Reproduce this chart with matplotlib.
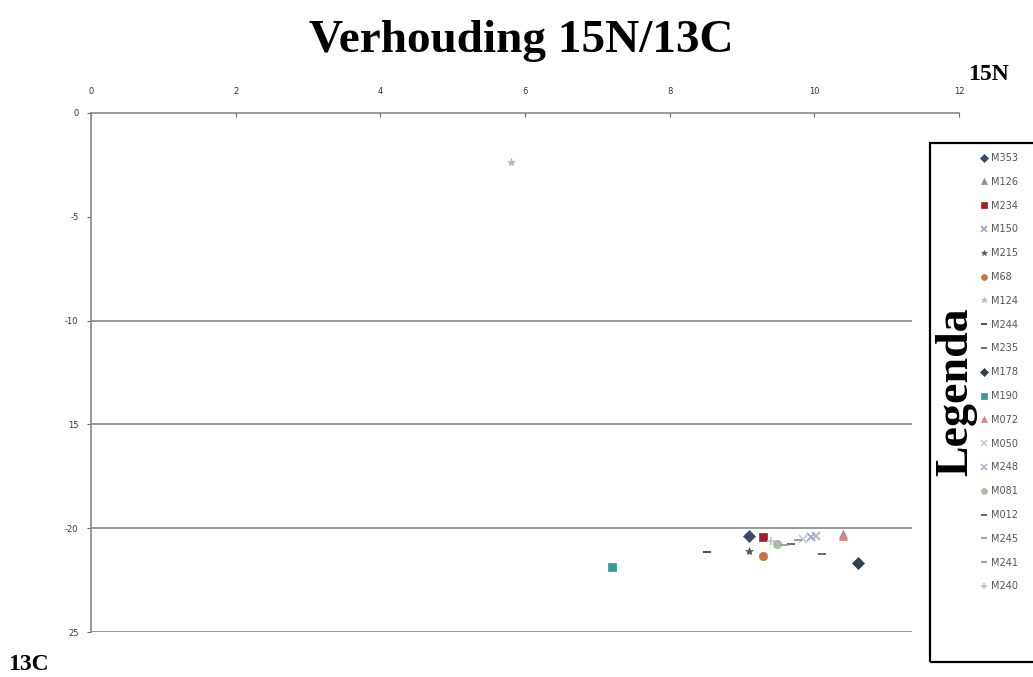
import matplotlib
matplotlib.use("Agg")
import matplotlib.pyplot as plt
from matplotlib.patches import Rectangle

# isotope ratios per sample (15N on x, 13C on y)
samples = ["M353", "M126", "M234", "M150", "M215", "M68", "M124", "M244", "M235", "M178",
           "M190", "M072", "M050", "M248", "M081", "M012", "M245", "M241", "M240"]
n15 = [9.10, 10.40, 9.29, 9.95, 9.10, 9.29, 5.81, 8.52, 9.68, 10.60,
       7.20, 10.40, 9.85, 10.02, 9.49, 10.11, 9.60, 9.78, 9.40]
c13 = [-20.38, -20.30, -20.40, -20.42, -21.08, -21.32, -2.38, -21.16, -20.78, -21.69,
       -21.85, -20.38, -20.50, -20.36, -20.76, -21.24, -20.80, -20.55, -20.60]

x_ticks = [0, 2, 4, 6, 8, 10, 12]
y_ticks = [0, -5, -10, -15, -20, -25]
y_tick_labels = ["0", "-5", "-10", "15", "-20", "25"]
grid_levels = [-10, -15, -20, -25]

markers = ["D", "^", "s", "x", "*", "o", "*", "_", "_", "D",
           "s", "^", "x", "x", "o", "_", "_", "_", "+"]
colors = ["#3c4a66", "#8c9494", "#9b2230", "#9aa4c4", "#50604a", "#c8743c", "#b8b8b8", "#303030", "#555555", "#34404c",
          "#2f9e94", "#e0807c", "#c4c8d8", "#a8b0c8", "#a8bca0", "#505050", "#909090", "#8090a4", "#c0c0c0"]

fig = plt.figure(figsize=(10.33, 6.77), dpi=100)
ax = fig.add_axes([91 / 1033, 1 - 632 / 677, (959 - 91) / 1033, (632 - 113) / 677])

for name, x, y, m, c in zip(samples, n15, c13, markers, colors):
    ax.plot(x, y, linestyle="none", marker=m, color=c, markersize=6,
            markeredgewidth=1.2 if m in ("x", "+", "_") else 0.5, label=name)

ax.set_xlim(0, 12)
ax.set_ylim(-25, 0)
ax.xaxis.tick_top()
ax.set_xticks(x_ticks)
ax.set_xticklabels([str(t) for t in x_ticks])
ax.set_yticks(y_ticks)
ax.set_yticklabels(y_tick_labels)
ax.tick_params(axis="x", direction="in", length=3, pad=12, labelsize=6, colors="#666666", labelcolor="#333333")
ax.tick_params(axis="y", direction="out", length=3, pad=6, labelsize=6, colors="#666666", labelcolor="#333333")

for side in ("right", "bottom"):
    ax.spines[side].set_visible(False)
for side in ("top", "left"):
    ax.spines[side].set_color("#888888")
    ax.spines[side].set_linewidth(1.2)

# horizontal grid stops short of the legend box
ax.hlines(grid_levels, 0, 11.35, colors="#888888", linewidth=1.2, zorder=0)

fig.text(0.505, 1 - 41 / 677, "Verhouding 15N/13C", ha="center", va="center",
         fontsize=34, fontweight="bold", family="Liberation Serif")
fig.text(968 / 1033, 1 - 75 / 677, "15N", ha="left", va="center",
         fontsize=17, fontweight="bold", family="Liberation Serif")
fig.text(8 / 1033, 1 - 665 / 677, "13C", ha="left", va="center",
         fontsize=17, fontweight="bold", family="Liberation Serif")

# legend box running off the right edge
fig.patches.append(Rectangle((930 / 1033, 1 - 662 / 677), 0.2, (662 - 143) / 677,
                             transform=fig.transFigure, fill=False,
                             edgecolor="black", linewidth=1.6))
fig.text(956 / 1033, 1 - 392 / 677, "Legenda", rotation=90, ha="center", va="center",
         fontsize=33, fontweight="bold", family="Liberation Serif")
fig.legend(loc="upper left", bbox_to_anchor=(980 / 1033, 1 - 153 / 677), frameon=False,
           fontsize=7, labelcolor="#555555", handlelength=0.8, handletextpad=0.3,
           labelspacing=1.42, markerscale=0.7, borderpad=0, borderaxespad=0)

fig.savefig("out.png", dpi=100)
